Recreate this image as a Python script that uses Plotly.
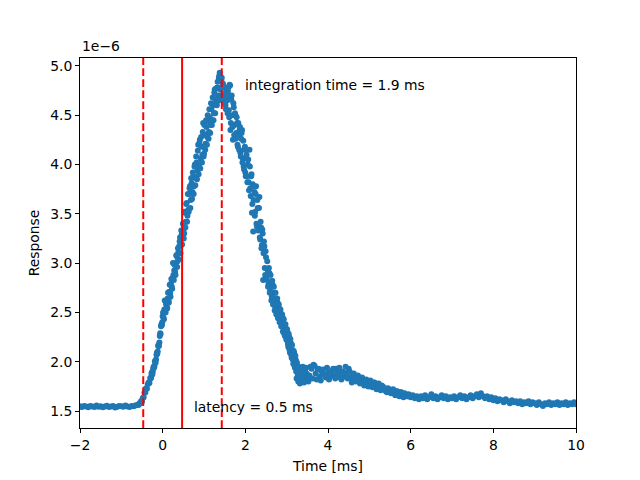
import plotly.graph_objs as go

# Tiempos [ms] y respuesta (en unidades de 1e-6)
t_base = [-2.00, -1.95, -1.90, -1.85, -1.80, -1.75, -1.70, -1.65, -1.60, -1.55,
          -1.50, -1.45, -1.40, -1.35, -1.30, -1.25, -1.20, -1.15, -1.10, -1.05,
          -1.00, -0.95, -0.90, -0.85, -0.80, -0.75, -0.70, -0.65, -0.60]
r_base = [1.548, 1.541, 1.552, 1.545, 1.538, 1.550, 1.546, 1.542, 1.555, 1.544,
          1.549, 1.539, 1.547, 1.553, 1.541, 1.546, 1.550, 1.537, 1.544, 1.552,
          1.548, 1.543, 1.556, 1.547, 1.541, 1.551, 1.549, 1.558, 1.562]

t_pico = [-0.58, -0.56, -0.54, -0.52, -0.50, -0.48, -0.46, -0.44, -0.42, -0.40,
          -0.38, -0.36, -0.34, -0.32, -0.30, -0.28, -0.26, -0.24, -0.22, -0.20,
          -0.18, -0.16, -0.14, -0.12, -0.10, -0.08, -0.06, -0.04, -0.02, 0.00,
          0.02, 0.04, 0.06, 0.08, 0.10, 0.12, 0.14, 0.16, 0.18, 0.20,
          0.22, 0.24, 0.26, 0.28, 0.30, 0.32, 0.34, 0.36, 0.38, 0.40,
          0.42, 0.44, 0.46, 0.48, 0.50, 0.52, 0.54, 0.56, 0.58, 0.60,
          0.62, 0.64, 0.66, 0.68, 0.70, 0.72, 0.74, 0.76, 0.78, 0.80,
          0.82, 0.84, 0.86, 0.88, 0.90, 0.92, 0.94, 0.96, 0.98, 1.00,
          1.02, 1.04, 1.06, 1.08, 1.10, 1.12, 1.14, 1.16, 1.18, 1.20,
          1.22, 1.24, 1.26, 1.28, 1.30, 1.32, 1.34, 1.36, 1.38, 1.40,
          1.42, 1.44, 1.46, 1.48, 1.50, 1.52, 1.54, 1.56, 1.58, 1.60,
          1.62, 1.64, 1.66, 1.68, 1.70, 1.72, 1.74, 1.76, 1.78, 1.80,
          1.82, 1.84, 1.86, 1.88, 1.90, 1.92, 1.94, 1.96, 1.98, 2.00,
          2.02, 2.04, 2.06, 2.08, 2.10, 2.12, 2.14, 2.16, 2.18, 2.20,
          2.22, 2.24, 2.26, 2.28, 2.30, 2.32, 2.34, 2.36, 2.38, 2.40,
          2.42, 2.44, 2.46, 2.48, 2.50, 2.52, 2.54, 2.56, 2.58, 2.60,
          2.62, 2.64, 2.66, 2.68, 2.70, 2.72, 2.74, 2.76, 2.78, 2.80,
          2.82, 2.84, 2.86, 2.88, 2.90, 2.92, 2.94, 2.96, 2.98, 3.00,
          3.02, 3.04, 3.06, 3.08, 3.10, 3.12, 3.14, 3.16, 3.18, 3.20,
          3.22, 3.24, 3.26, 3.28, 3.30, 3.32, 3.34, 3.36, 3.38, 3.40,
          3.42, 3.44, 3.46, 3.48, 3.50]
r_pico = [1.565, 1.580, 1.578, 1.601, 1.596, 1.632, 1.640, 1.685, 1.688, 1.730,
          1.725, 1.772, 1.790, 1.785, 1.834, 1.840, 1.893, 1.895, 1.948, 1.952,
          2.010, 2.022, 2.090, 2.104, 2.170, 2.195, 2.290, 2.360, 2.370, 2.462,
          2.445, 2.530, 2.505, 2.585, 2.560, 2.640, 2.625, 2.710, 2.695, 2.790,
          2.760, 2.850, 2.880, 2.925, 2.910, 3.000, 3.070, 3.020, 3.110, 3.170,
          3.260, 3.180, 3.290, 3.250, 3.330, 3.300, 3.510, 3.420, 3.610, 3.480,
          3.540, 3.700, 3.780, 3.640, 3.810, 3.720, 3.880, 3.780, 4.000, 3.860,
          4.020, 3.940, 4.200, 3.980, 4.250, 4.060, 4.180, 4.100, 4.420, 4.110,
          4.300, 4.210, 4.380, 4.280, 4.440, 4.330, 4.480, 4.400, 4.560, 4.450,
          4.600, 4.520, 4.760, 4.660, 4.620, 4.780, 4.700, 4.880, 4.930, 4.760,
          4.850, 4.700, 4.820, 4.640, 4.780, 4.600, 4.760, 4.650, 4.740, 4.550,
          4.810, 4.350, 4.660, 4.500, 4.250, 4.580, 4.400, 4.500, 4.320, 4.420,
          4.180, 4.300, 4.350, 4.120, 4.260, 4.350, 4.060, 3.980, 4.150, 3.920,
          4.060, 3.880, 4.000, 3.820, 4.150, 3.760, 3.880, 3.510, 3.800, 3.640,
          3.720, 3.520, 3.780, 3.370, 3.560, 3.400, 3.670, 3.240, 3.360, 3.180,
          3.300, 3.100, 3.170, 2.880, 3.060, 2.830, 2.930, 2.780, 2.900, 2.720,
          2.800, 2.660, 2.780, 2.600, 2.700, 2.560, 2.640, 2.500, 2.600, 2.460,
          2.540, 2.420, 2.490, 2.360, 2.450, 2.300, 2.380, 2.260, 2.340, 2.220,
          2.300, 2.150, 2.250, 2.090, 2.190, 2.040, 2.120, 1.980, 2.090, 1.940,
          2.020, 1.830, 1.960, 1.800, 1.920, 1.780, 1.850, 1.930, 1.820, 1.890,
          1.790, 1.910, 1.840, 1.880, 1.830]

# muestras intermedias de la zona del pico
t_pico2 = [-0.29, -0.27, -0.25, -0.23, -0.21, -0.19, -0.17, -0.15, -0.13, -0.11,
           -0.09, -0.07, -0.05, -0.03, -0.01,
           0.01, 0.03, 0.05, 0.07, 0.09, 0.11, 0.13, 0.15, 0.17, 0.19,
           0.21, 0.23, 0.25, 0.27, 0.29, 0.31, 0.33, 0.35, 0.37, 0.39,
           0.41, 0.43, 0.45, 0.47, 0.49, 0.51, 0.53, 0.55, 0.57, 0.59,
           0.61, 0.63, 0.65, 0.67, 0.69, 0.71, 0.73, 0.75, 0.77, 0.79,
           0.81, 0.83, 0.85, 0.87, 0.89, 0.91, 0.93, 0.95, 0.97, 0.99,
           1.01, 1.03, 1.05, 1.07, 1.09, 1.11, 1.13, 1.15, 1.17, 1.19,
           1.21, 1.23, 1.25, 1.27, 1.29, 1.31, 1.33, 1.35, 1.37, 1.39,
           1.41, 1.43, 1.45, 1.47, 1.49, 1.51, 1.53, 1.55, 1.57, 1.59,
           1.61, 1.63, 1.65, 1.67, 1.69, 1.71, 1.73, 1.75, 1.77, 1.79,
           1.81, 1.83, 1.85, 1.87, 1.89, 1.91, 1.93, 1.95, 1.97, 1.99,
           2.01, 2.03, 2.05, 2.07, 2.09, 2.11, 2.13, 2.15, 2.17, 2.19,
           2.21, 2.23, 2.25, 2.27, 2.29, 2.31, 2.33, 2.35, 2.37, 2.39,
           2.41, 2.43, 2.45, 2.47, 2.49, 2.51, 2.53, 2.55, 2.57, 2.59,
           2.61, 2.63, 2.65, 2.67, 2.69, 2.71, 2.73, 2.75, 2.77, 2.79,
           2.81, 2.83, 2.85, 2.87, 2.89, 2.91, 2.93, 2.95, 2.97, 2.99,
           3.01, 3.03, 3.05, 3.07, 3.09, 3.11, 3.13, 3.15, 3.17, 3.19,
           3.21, 3.23, 3.25, 3.27, 3.29, 3.31, 3.33, 3.35, 3.37, 3.39,
           3.41, 3.43, 3.45, 3.47, 3.49]
r_pico2 = [1.830, 1.880, 1.870, 1.930, 1.940, 2.000, 1.990, 2.070, 2.080, 2.160,
           2.160, 2.260, 2.280, 2.380, 2.400,
           2.500, 2.430, 2.620, 2.500, 2.610, 2.540, 2.700, 2.600, 2.780, 2.660,
           2.840, 2.740, 3.000, 2.830, 2.980, 2.880, 3.080, 2.960, 3.150, 3.040,
           3.220, 3.100, 3.330, 3.190, 3.400, 3.250, 3.520, 3.360, 3.600, 3.420,
           3.700, 3.520, 3.760, 3.560, 3.860, 3.650, 3.920, 3.700, 3.980, 3.790,
           4.080, 3.850, 4.140, 3.900, 4.220, 3.960, 4.280, 4.020, 4.330, 4.080,
           4.400, 4.150, 4.450, 4.200, 4.500, 4.260, 4.560, 4.320, 4.620, 4.400,
           4.680, 4.450, 4.730, 4.520, 4.770, 4.600, 4.840, 4.650, 4.900, 4.700,
           4.780, 4.880, 4.680, 4.800, 4.620, 4.720, 4.560, 4.690, 4.520, 4.780,
           4.480, 4.800, 4.420, 4.700, 4.380, 4.620, 4.300, 4.520, 4.260, 4.480,
           4.200, 4.420, 4.150, 4.380, 4.080, 4.320, 4.020, 4.240, 3.950, 4.180,
           3.880, 4.100, 3.820, 4.050, 3.740, 3.980, 3.680, 3.900, 3.600, 3.320,
           3.780, 3.480, 3.700, 3.400, 3.640, 3.330, 3.560, 3.260, 3.420, 3.150,
           3.340, 2.830, 3.220, 2.950, 3.120, 2.850, 3.020, 2.760, 2.950, 2.700,
           2.880, 2.620, 2.820, 2.580, 2.760, 2.520, 2.700, 2.480, 2.640, 2.440,
           2.580, 2.400, 2.530, 2.360, 2.480, 2.310, 2.430, 2.270, 2.380, 2.230,
           2.330, 2.180, 2.280, 2.120, 2.230, 2.070, 2.170, 2.020, 2.110, 1.960,
           2.060, 1.900, 1.990, 1.860, 1.950, 1.820, 1.900, 1.800, 1.870, 1.950,
           1.810, 1.880, 1.830, 1.940, 1.850]

t_cola = [3.55, 3.60, 3.65, 3.70, 3.75, 3.80, 3.85, 3.90, 3.95, 4.00,
          4.05, 4.10, 4.15, 4.20, 4.25, 4.30, 4.35, 4.40, 4.45, 4.50,
          4.55, 4.60, 4.65, 4.70, 4.75, 4.80, 4.85, 4.90, 4.95, 5.00,
          5.05, 5.10, 5.15, 5.20, 5.25, 5.30, 5.35, 5.40, 5.45, 5.50,
          5.55, 5.60, 5.65, 5.70, 5.75, 5.80, 5.85, 5.90, 5.95, 6.00,
          6.05, 6.10, 6.15, 6.20, 6.25, 6.30, 6.35, 6.40, 6.45, 6.50,
          6.55, 6.60, 6.65, 6.70, 6.75, 6.80, 6.85, 6.90, 6.95, 7.00,
          7.05, 7.10, 7.15, 7.20, 7.25, 7.30, 7.35, 7.40, 7.45, 7.50,
          7.55, 7.60, 7.65, 7.70, 7.75, 7.80, 7.85, 7.90, 7.95, 8.00,
          8.05, 8.10, 8.15, 8.20, 8.25, 8.30, 8.35, 8.40, 8.45, 8.50,
          8.55, 8.60, 8.65, 8.70, 8.75, 8.80, 8.85, 8.90, 8.95, 9.00,
          9.05, 9.10, 9.15, 9.20, 9.25, 9.30, 9.35, 9.40, 9.45, 9.50,
          9.55, 9.60, 9.65, 9.70, 9.75, 9.80, 9.85, 9.90, 9.95, 10.00]
r_cola = [1.86, 1.93, 1.97, 1.88, 1.92, 1.85, 1.90, 1.87, 1.84, 1.89,
          1.85, 1.91, 1.86, 1.93, 1.87, 1.84, 1.90, 1.85, 1.88, 1.93,
          1.84, 1.87, 1.82, 1.85, 1.80, 1.83, 1.79, 1.81, 1.77, 1.80,
          1.76, 1.79, 1.75, 1.77, 1.73, 1.76, 1.72, 1.70, 1.73, 1.69,
          1.71, 1.68, 1.70, 1.67, 1.69, 1.66, 1.68, 1.65, 1.67, 1.64,
          1.66, 1.63, 1.65, 1.62, 1.65, 1.63, 1.66, 1.62, 1.64, 1.67,
          1.63, 1.65, 1.62, 1.64, 1.66, 1.63, 1.65, 1.62, 1.64, 1.63,
          1.65, 1.62, 1.64, 1.66, 1.63, 1.65, 1.62, 1.64, 1.66, 1.63,
          1.65, 1.67, 1.64, 1.68, 1.65, 1.63, 1.65, 1.62, 1.64, 1.61,
          1.63, 1.60, 1.62, 1.61, 1.59, 1.62, 1.60, 1.58, 1.61, 1.59,
          1.60, 1.58, 1.60, 1.57, 1.59, 1.58, 1.60, 1.57, 1.59, 1.58,
          1.56, 1.59, 1.57, 1.55, 1.58, 1.57, 1.59, 1.56, 1.58, 1.57,
          1.59, 1.56, 1.58, 1.57, 1.59, 1.56, 1.58, 1.57, 1.59, 1.57]

# muestras intermedias del principio de la cola
t_cola2 = [3.525, 3.575, 3.625, 3.675, 3.725, 3.775, 3.825, 3.875, 3.925, 3.975,
           4.025, 4.075, 4.125, 4.175, 4.225, 4.275, 4.325, 4.375, 4.425, 4.475,
           4.525, 4.575, 4.625, 4.675, 4.725, 4.775, 4.825, 4.875, 4.925, 4.975,
           5.025, 5.075, 5.125, 5.175, 5.225, 5.275, 5.325, 5.375, 5.425, 5.475,
           5.525, 5.575, 5.625, 5.675, 5.725, 5.775, 5.825, 5.875, 5.925, 5.975]
r_cola2 = [1.80, 1.95, 1.83, 1.96, 1.82, 1.93, 1.81, 1.92, 1.86, 1.94,
           1.82, 1.88, 1.93, 1.83, 1.90, 1.94, 1.82, 1.89, 1.95, 1.83,
           1.90, 1.79, 1.88, 1.80, 1.86, 1.78, 1.84, 1.76, 1.82, 1.75,
           1.81, 1.74, 1.79, 1.72, 1.78, 1.71, 1.75, 1.73, 1.69, 1.72,
           1.68, 1.72, 1.66, 1.70, 1.65, 1.69, 1.64, 1.67, 1.65, 1.66]

# latencia e inicio/fin de la ventana de integracion [ms]
latencia = 0.47
ventana = [-0.47, 1.43]
x_ticks = [-2, 0, 2, 4, 6, 8, 10]
y_ticks = [1.5, 2.0, 2.5, 3.0, 3.5, 4.0, 4.5, 5.0]

fuente = dict(family='DejaVu Sans', size=13.9, color='black')

tiempo = t_base + t_pico + t_pico2 + t_cola + t_cola2
resp = r_base + r_pico + r_pico2 + r_cola + r_cola2

data = [go.Scatter(
    x=tiempo,
    y=resp,
    mode='markers',
    marker=dict(color='#1f77b4', size=6, line=dict(width=0)),
    showlegend=False)]

shapes = [dict(type='line', xref='x', yref='paper', x0=latencia, x1=latencia, y0=0, y1=1,
               line=dict(color='#ff0000', width=2))]
for v in ventana:
    shapes.append(dict(type='line', xref='x', yref='paper', x0=v, x1=v, y0=0, y1=1,
                       line=dict(color='#ff0000', width=2, dash='7.7px,3.3px')))

annotations = [
    dict(x=2.0, y=4.70, xref='x', yref='y', text='integration time = 1.9 ms', xshift=-2,
         showarrow=False, xanchor='left', yanchor='bottom', font=fuente),
    dict(x=0.75, y=1.435, xref='x', yref='y', text='latency = 0.5 ms', xshift=-2,
         showarrow=False, xanchor='left', yanchor='bottom', font=fuente),
    dict(x=0, y=1, xref='paper', yref='paper', text='1e\u22126', yshift=2,
         showarrow=False, xanchor='left', yanchor='bottom', font=fuente),
]

eje = dict(showgrid=False, zeroline=False, showline=True, linecolor='black', linewidth=1,
           mirror=True, ticks='outside', ticklen=4, tickwidth=1, tickcolor='black',
           tickfont=fuente, automargin=False)

# la pagina tiene 8 px de margen, se descuenta en l y t
layout = go.Layout(
    width=640, height=480, autosize=False,
    margin=dict(l=72, r=72, t=50, b=60),
    paper_bgcolor='white', plot_bgcolor='white',
    font=fuente,
    xaxis=dict(eje, range=[-2, 10], tickvals=x_ticks,
               title=dict(text='Time [ms]', font=fuente, standoff=9)),
    yaxis=dict(eje, range=[1.328, 5.08], tickvals=y_ticks, tickformat='.1f',
               title=dict(text='Response', font=fuente, standoff=7)),
    shapes=shapes,
    annotations=annotations)

fig = go.Figure(data=data, layout=layout)
fig.write_html('out.html')
